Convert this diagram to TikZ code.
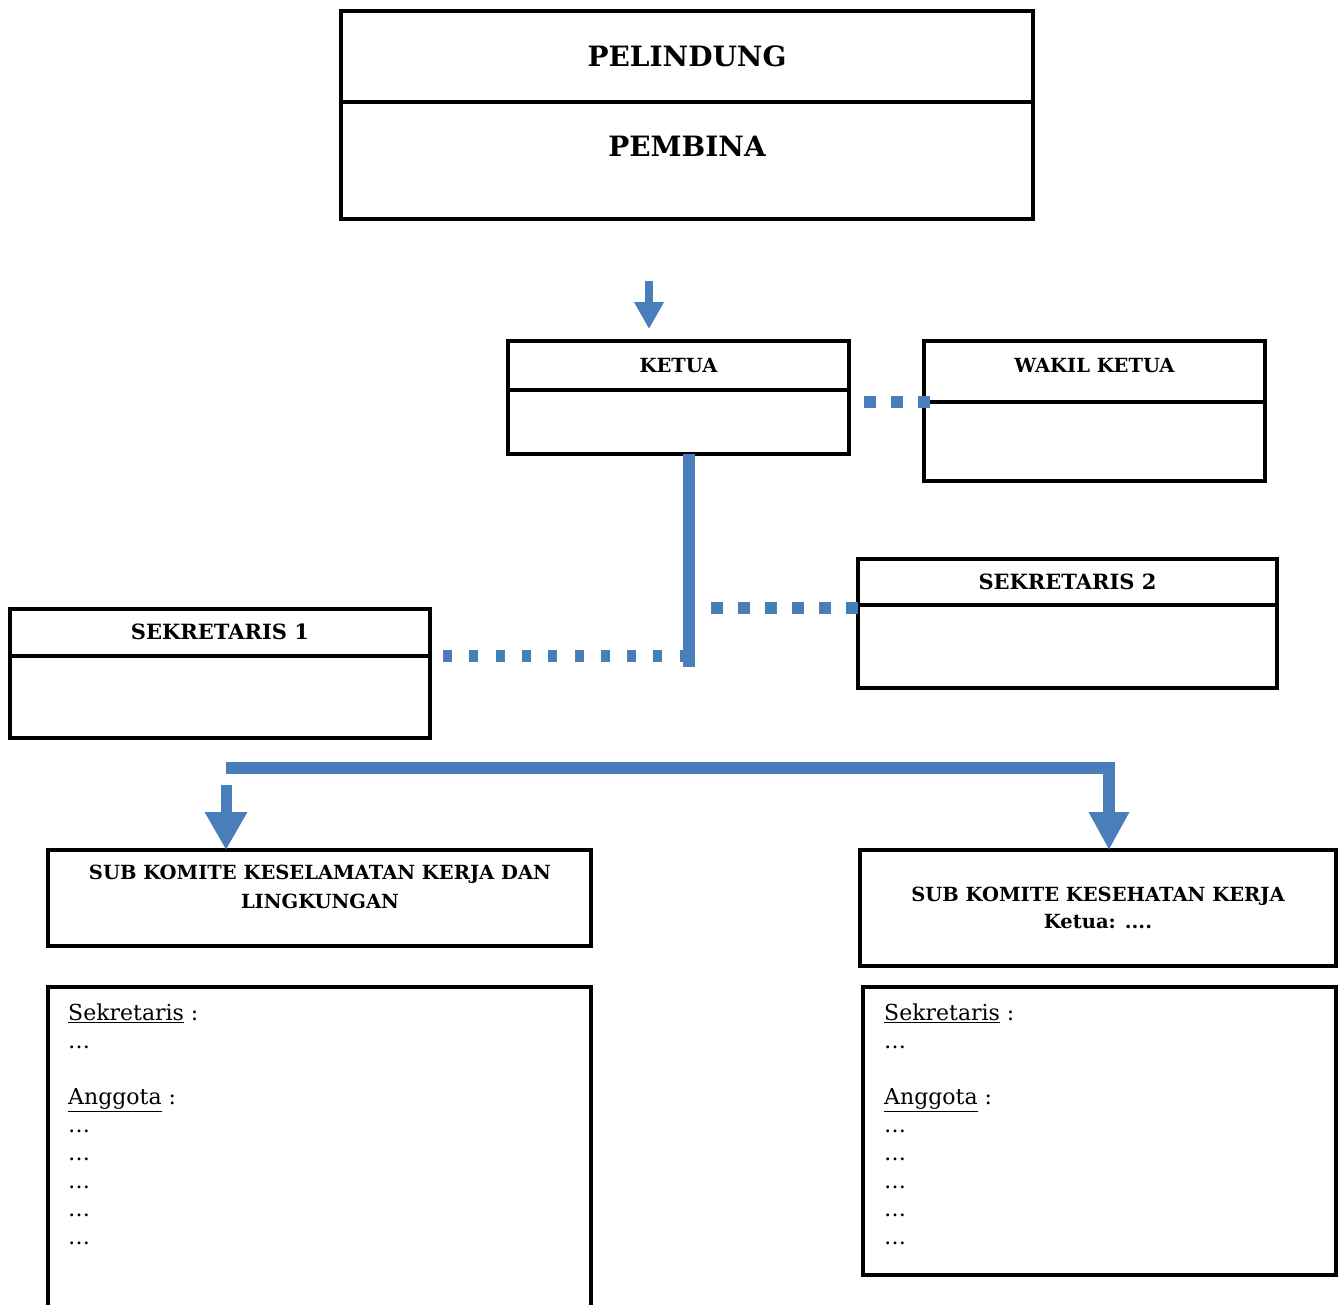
\documentclass[tikz,border=0pt]{standalone}
\usepackage{fontspec}
\setmainfont{DejaVu Serif}
\usetikzlibrary{positioning,arrows.meta}

\begin{document}
\begin{tikzpicture}[x=1pt, y=-1pt,
  box/.style={draw=black, line width=4.5pt, inner sep=0pt, outer sep=0pt, anchor=north west},
  bigtitle/.style={font=\bfseries\fontsize{28}{34}\selectfont},
  headtitle/.style={font=\bfseries\fontsize{19.5}{23}\selectfont, text height=14pt, text depth=0pt},
  subtitle/.style={font=\bfseries\fontsize{19.5}{29}\selectfont, align=center},
  members/.style={font=\fontsize{22}{28}\selectfont, align=left, anchor=north west, inner sep=0pt},
  flow/.style={LineBlue, line width=12pt},
  dots/.style={LineBlue, line width=12pt, dash pattern=on 12pt off 15pt}]

% Colours
\definecolor{LineBlue}{HTML}{4A7EBB}

\useasboundingbox (0,0) rectangle (1344,1304);

% Pelindung / Pembina
\node[box, bigtitle, minimum width=692, minimum height=91] (pelindung) at (341,11) {PELINDUNG};
\node[box, minimum width=692, minimum height=117] (pembina) at (341,102) {};
\node[bigtitle] (pembinatext) at (687,146) {PEMBINA};

% Ketua & Wakil Ketua
\node[box, headtitle, minimum width=341, minimum height=49] (ketuahead) at (508,341) {KETUA};
\node[box, minimum width=341, minimum height=64] (ketuabody) at (508,390) {};
\node[box, headtitle, text depth=13pt, minimum width=341, minimum height=61] (wakilhead) at (924,341) {WAKIL KETUA};
\node[box, minimum width=341, minimum height=79] (wakilbody) at (924,402) {};

% Sekretaris 1 & 2
\node[box, headtitle, font=\bfseries\fontsize{21}{25}\selectfont, minimum width=419, minimum height=46] (sektwohead) at (858,559) {SEKRETARIS 2};
\node[box, minimum width=419, minimum height=83] (sektwobody) at (858,605) {};
\node[box, headtitle, font=\bfseries\fontsize{21}{25}\selectfont, minimum width=420, minimum height=47] (sekonehead) at (10,609) {SEKRETARIS 1};
\node[box, minimum width=420, minimum height=82] (sekonebody) at (10,656) {};

% Sub komite
\node[box, minimum width=543, minimum height=96] (subleft) at (48,850) {};
\node[subtitle] (sublefttext) at (320,887) {SUB KOMITE KESELAMATAN KERJA DAN\\LINGKUNGAN};
\node[box, subtitle, font=\bfseries\fontsize{19.5}{27}\selectfont, minimum width=476, minimum height=116] (subright) at (860,850) {SUB KOMITE KESEHATAN KERJA\\Ketua: ....};

% Member lists
\node[box, minimum width=543, minimum height=330] (listleft) at (48,987) {};
\node[members] (listlefttext) at (68,1004) {\underline{Sekretaris} :\\ \ldots\\[28pt] \underline{Anggota} :\\ \ldots\\ \ldots\\ \ldots\\ \ldots\\ \ldots};
\node[box, minimum width=473, minimum height=288] (listright) at (863,987) {};
\node[members] (listrighttext) at (884,1004) {\underline{Sekretaris} :\\ \ldots\\[28pt] \underline{Anggota} :\\ \ldots\\ \ldots\\ \ldots\\ \ldots\\ \ldots};

% Connectors
\coordinate (toparrow) at (649,281);
\draw[LineBlue, line width=8pt, -{Triangle[width=28pt, length=27pt]}] (toparrow) -- ([yshift=12pt]toparrow |- ketuahead.north);

\draw[dots] ([xshift=6pt]wakilhead.south west) -- ([xshift=14pt]wakilhead.south west -| ketuabody.east);

\coordinate (trunk) at (689,667);
\draw[flow] ([xshift=10.5pt]ketuabody.south) -- (trunk);

\draw[dots] ([yshift=-3pt]sektwohead.south west) -- ([yshift=-3pt, xshift=9pt]sektwohead.south west -| trunk);
\draw[dots, dash pattern=on 9pt off 17.3pt] ([xshift=13pt]sekonehead.south east) -- (sekonehead.south east -| trunk);

% Distribution bar to sub komite
\coordinate (barleft) at (226,768);
\coordinate (barright) at (1109,768);
\draw[flow, -{Triangle[width=38pt, length=38pt]}] (barleft) -- (barright) -- (barright |- subright.north);
\coordinate (leftarrow) at (226,785);
\draw[flow, line width=11pt, -{Triangle[width=40pt, length=38pt]}] (leftarrow) -- (leftarrow |- subleft.north);

\end{tikzpicture}
\end{document}
